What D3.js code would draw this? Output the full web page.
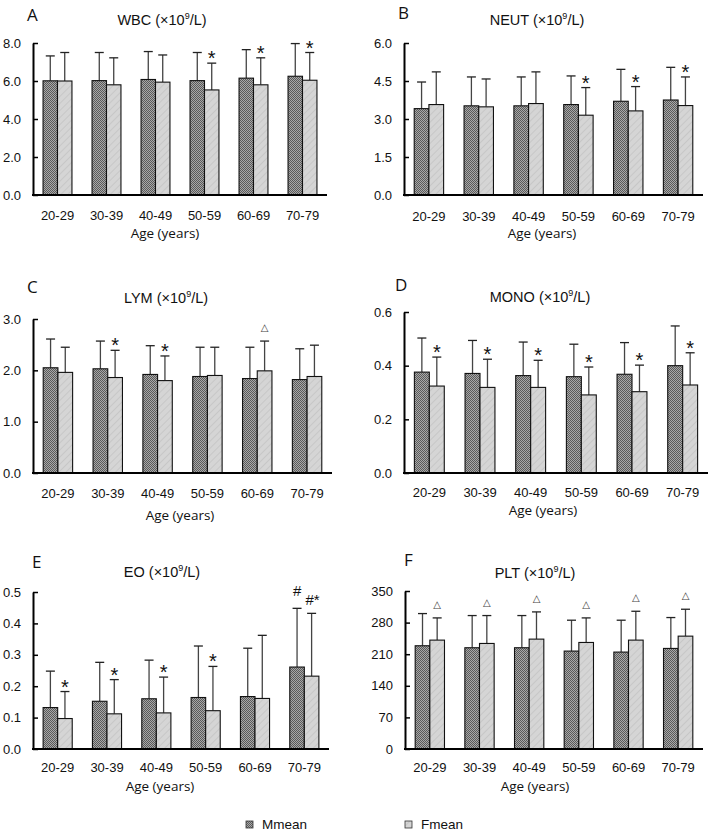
<!DOCTYPE html>
<html><head><meta charset="utf-8">
<script src="https://cdn.jsdelivr.net/npm/d3@7"></script>
<style>body{margin:0;background:#fff}svg{display:block}</style>
</head><body>
<svg id="chart" width="710" height="832"></svg>
<script>
// ---------------- DATA ----------------
const ageGroups = ["20-29","30-39","40-49","50-59","60-69","70-79"];
const seriesNames = ["Mmean","Fmean"];

const wbcM = [6.01,6.02,6.08,6.02,6.15,6.25];
const wbcMsd = [1.31,1.48,1.47,1.48,1.50,1.72];
const wbcF = [6.00,5.80,5.94,5.53,5.80,6.04];
const wbcFsd = [1.50,1.42,1.43,1.41,1.42,1.46];
const wbcMarkM = ["","","","","",""];
const wbcMarkF = ["","","","*","*","*"];

const neutM = [3.41,3.52,3.52,3.57,3.70,3.75];
const neutMsd = [1.05,1.14,1.14,1.13,1.26,1.29];
const neutF = [3.57,3.48,3.61,3.15,3.32,3.53];
const neutFsd = [1.29,1.10,1.25,1.09,0.96,1.13];
const neutMarkM = ["","","","","",""];
const neutMarkF = ["","","","*","*","*"];

const lymM = [2.05,2.03,1.92,1.88,1.84,1.82];
const lymMsd = [0.56,0.54,0.56,0.57,0.61,0.60];
const lymF = [1.96,1.86,1.80,1.90,1.99,1.88];
const lymFsd = [0.49,0.53,0.48,0.55,0.58,0.61];
const lymMarkM = ["","","","","",""];
const lymMarkF = ["","*","*","","△",""];

const monoM = [0.376,0.371,0.363,0.359,0.368,0.400];
const monoMsd = [0.127,0.123,0.125,0.121,0.118,0.148];
const monoF = [0.324,0.319,0.319,0.291,0.303,0.328];
const monoFsd = [0.108,0.105,0.101,0.104,0.099,0.120];
const monoMarkM = ["","","","","",""];
const monoMarkF = ["*","*","*","*","*","*"];

const eoM = [0.132,0.152,0.160,0.164,0.167,0.261];
const eoMsd = [0.116,0.124,0.123,0.164,0.154,0.187];
const eoF = [0.097,0.112,0.115,0.122,0.161,0.232];
const eoFsd = [0.086,0.109,0.114,0.141,0.201,0.200];
const eoMarkM = ["","","","","","#"];
const eoMarkF = ["*","*","*","*","","#*"];

const pltM = [228.7,224.3,224.3,216.9,214.7,222.8];
const pltMsd = [71.3,71.3,71.3,68.4,70.6,68.4];
const pltF = [241.2,233.8,243.4,236.0,241.2,250.0];
const pltFsd = [49.2,61.8,60.3,54.4,63.9,59.6];
const pltMarkM = ["","","","","",""];
const pltMarkF = ["△","△","△","△","△","△"];

const wbcTicks = [0,2,4,6,8];
const neutTicks = [0,1.5,3,4.5,6];
const lymTicks = [0,1,2,3];
const monoTicks = [0,0.2,0.4,0.6];
const eoTicks = [0,0.1,0.2,0.3,0.4,0.5];
const pltTicks = [0,70,140,210,280,350];

const panelLetters = ["A","B","C","D","E","F"];
const panelTitles = ["WBC","NEUT","LYM","MONO","EO","PLT"];
const xAxisTitle = "Age (years)";

// ---------------- LAYOUT ----------------
const panels = [
  {M:wbcM,Msd:wbcMsd,F:wbcF,Fsd:wbcFsd,mM:wbcMarkM,mF:wbcMarkF,ticks:wbcTicks,fmt:".1f",
   x0:33,x1:327,yTop:43,yBot:195,lx:27,ly:21,tx:162,ty:25,tly:219.5,ax:165,ay:238},
  {M:neutM,Msd:neutMsd,F:neutF,Fsd:neutFsd,mM:neutMarkM,mF:neutMarkF,ticks:neutTicks,fmt:".1f",
   x0:404,x1:703,yTop:43,yBot:195,lx:398,ly:19,tx:537,ty:25,tly:221,ax:542,ay:238},
  {M:lymM,Msd:lymMsd,F:lymF,Fsd:lymFsd,mM:lymMarkM,mF:lymMarkF,ticks:lymTicks,fmt:".1f",
   x0:33,x1:332,yTop:319,yBot:473,lx:27,ly:293,tx:166,ty:303,tly:497.5,ax:180,ay:520},
  {M:monoM,Msd:monoMsd,F:monoF,Fsd:monoFsd,mM:monoMarkM,mF:monoMarkF,ticks:monoTicks,fmt:".1f",
   x0:404,x1:708,yTop:312,yBot:473,lx:395,ly:291,tx:540,ty:302,tly:497,ax:543,ay:515},
  {M:eoM,Msd:eoMsd,F:eoF,Fsd:eoFsd,mM:eoMarkM,mF:eoMarkF,ticks:eoTicks,fmt:".1f",
   x0:33,x1:329,yTop:592,yBot:749,lx:32,ly:568,tx:162,ty:577,tly:771.5,ax:160,ay:791},
  {M:pltM,Msd:pltMsd,F:pltF,Fsd:pltFsd,mM:pltMarkM,mF:pltMarkF,ticks:pltTicks,fmt:"d",
   x0:405,x1:703,yTop:591,yBot:749,lx:404,ly:566,tx:535,ty:578,tly:771.5,ax:535,ay:791}
];

const svg = d3.select("#chart");
const defs = svg.append("defs");
// dark checker pattern
const pd = defs.append("pattern").attr("id","darkPat").attr("patternUnits","userSpaceOnUse")
  .attr("width",2).attr("height",2);
pd.append("rect").attr("width",2).attr("height",2).attr("fill","#a8a8a8");
pd.append("rect").attr("x",0).attr("y",0).attr("width",1).attr("height",1).attr("fill","#5a5a5a");
pd.append("rect").attr("x",1).attr("y",1).attr("width",1).attr("height",1).attr("fill","#5a5a5a");
// light diagonal pattern
const pl = defs.append("pattern").attr("id","lightPat").attr("patternUnits","userSpaceOnUse")
  .attr("width",5).attr("height",5).attr("patternTransform","rotate(45)");
pl.append("rect").attr("width",5).attr("height",5).attr("fill","#d5d5d5");
pl.append("line").attr("x1",0).attr("y1",0).attr("x2",0).attr("y2",5)
  .attr("stroke","#c4c4c4").attr("stroke-width",1.6);

const fills = {Mmean:"url(#darkPat)", Fmean:"url(#lightPat)"};
const sans = "'Liberation Sans', Arial, sans-serif";
const open = "'Open Sans', 'DejaVu Sans', sans-serif";

panels.forEach((p, pi) => {
  const g = svg.append("g");
  const x = d3.scaleBand().domain(ageGroups).range([p.x0, p.x1]).paddingInner(0.41).paddingOuter(0.205);
  const xs = d3.scaleBand().domain(seriesNames).range([0, x.bandwidth()]);
  const y = d3.scaleLinear().domain([0, d3.max(p.ticks)]).range([p.yBot, p.yTop]);

  const rows = [];
  ageGroups.forEach((a, i) => {
    rows.push({age:a, s:"Mmean", v:p.M[i], sd:p.Msd[i], mark:p.mM[i]});
    rows.push({age:a, s:"Fmean", v:p.F[i], sd:p.Fsd[i], mark:p.mF[i]});
  });
  const cx = d => x(d.age) + xs(d.s) + xs.bandwidth()/2;

  // error bars (behind bars)
  const eb = g.append("g").attr("stroke","#444").attr("stroke-width",1.3);
  eb.selectAll("line.v").data(rows).join("line").attr("class","v")
    .attr("x1",cx).attr("x2",cx).attr("y1",d=>y(d.v)).attr("y2",d=>y(d.v+d.sd));
  eb.selectAll("line.c").data(rows).join("line").attr("class","c")
    .attr("x1",d=>cx(d)-4.5).attr("x2",d=>cx(d)+4.5).attr("y1",d=>y(d.v+d.sd)).attr("y2",d=>y(d.v+d.sd))
    .attr("stroke","#222");

  // bars
  g.append("g").selectAll("rect").data(rows).join("rect")
    .attr("x",d=>x(d.age)+xs(d.s)).attr("width",xs.bandwidth())
    .attr("y",d=>y(d.v)).attr("height",d=>y(0)-y(d.v))
    .attr("fill",d=>fills[d.s]).attr("stroke","#111").attr("stroke-width",1.1);

  // significance markers
  const mk = rows.filter(d=>d.mark);
  g.append("g").selectAll("text").data(mk).join("text")
    .attr("x",d=> d.mark==="#*" ? cx(d)+1 : cx(d))
    .attr("y",d=>{
      const top = y(d.v+d.sd);
      if (d.mark==="*") return top + 2;
      if (d.mark==="△") return top - 10;
      if (d.mark==="#*") return top - 8;
      return top - 12;
    })
    .attr("text-anchor","middle")
    .attr("font-family",d=> d.mark==="△" ? "'DejaVu Sans', sans-serif" : sans)
    .attr("font-size",d=> d.mark==="*" ? 20 : (d.mark==="△" ? 10 : 15))
    .attr("fill",d=> d.mark==="△" ? "#444" : "#111")
    .text(d=>d.mark);

  // y axis
  const ya = g.append("g").attr("transform",`translate(${p.x0},0)`)
    .call(d3.axisLeft(y).tickValues(p.ticks).tickFormat(d3.format(p.fmt)).tickSizeInner(-5).tickSizeOuter(0).tickPadding(12));
  ya.select(".domain").attr("stroke","#000").attr("stroke-width",2);
  ya.selectAll(".tick line").attr("stroke","#000").attr("stroke-width",1.5);
  ya.selectAll(".tick text").attr("font-family",sans).attr("font-size",13).attr("fill","#111");

  // x axis line
  const xa = g.append("g").attr("transform",`translate(0,${p.yBot})`)
    .call(d3.axisBottom(x).tickSize(0).tickPadding(0));
  xa.select(".domain").attr("stroke","#000").attr("stroke-width",2).attr("d",`M${p.x0-1},0H${p.x1}`);
  xa.selectAll(".tick text").attr("y", p.tly - p.yBot).attr("dy",0)
    .attr("font-family",sans).attr("font-size",13).attr("fill","#111");

  // panel letter
  g.append("text").attr("x",p.lx).attr("y",p.ly).attr("font-family",open).attr("font-size",17)
    .attr("fill","#111").text(panelLetters[pi]);
  // title
  const t = g.append("text").attr("x",p.tx).attr("y",p.ty).attr("text-anchor","middle")
    .attr("font-family",sans).attr("font-size",14.5).attr("fill","#111");
  t.append("tspan").text(panelTitles[pi] + " (×10");
  t.append("tspan").attr("font-size",9).attr("dy",-6).text("9");
  t.append("tspan").attr("dy",6).text("/L)");
  // x axis title
  g.append("text").attr("x",p.ax).attr("y",p.ay).attr("text-anchor","middle")
    .attr("font-family",open).attr("font-size",13.5).attr("fill","#111").text(xAxisTitle);
});

// legend
const legendX = [246, 405];
const lg = svg.append("g");
seriesNames.forEach((s, i) => {
  lg.append("rect").attr("x",legendX[i]).attr("y",821).attr("width",7).attr("height",7)
    .attr("fill",fills[s]).attr("stroke","#333").attr("stroke-width",0.8);
  lg.append("text").attr("x",legendX[i]+16).attr("y",829).attr("font-family",sans)
    .attr("font-size",13.5).attr("fill","#111").text(s);
});
</script>
</body></html>
